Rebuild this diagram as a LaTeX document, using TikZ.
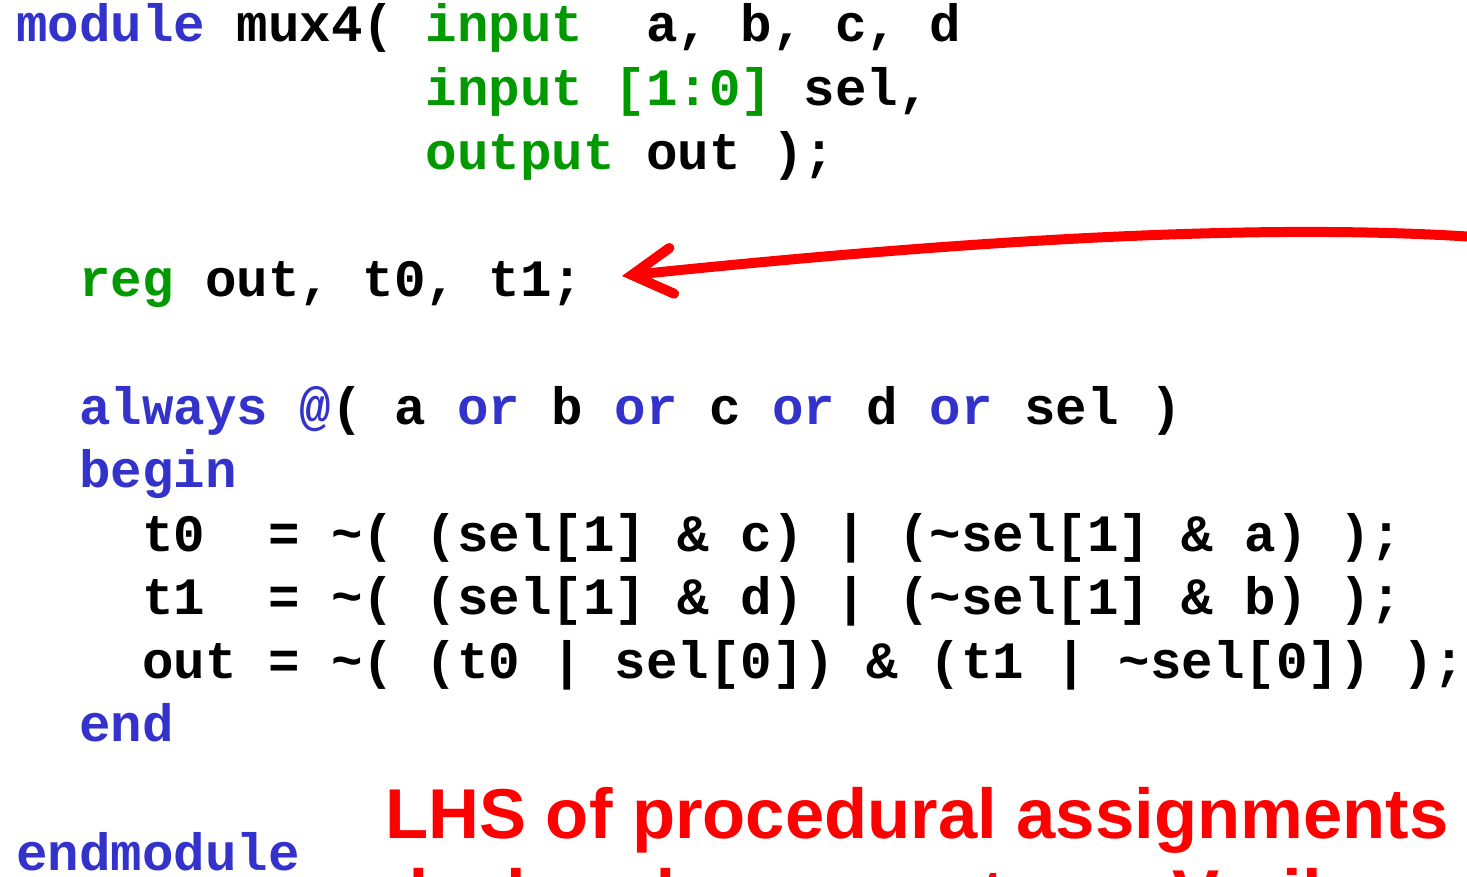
\documentclass[tikz,border=0pt]{standalone}
\usepackage{fontspec}
\setmainfont{Liberation Sans}
\newfontfamily\codefont{Liberation Mono}
\usepackage{xcolor}
\usepackage{tikz}
\usetikzlibrary{arrows.meta}
\definecolor{kwblue}{RGB}{51, 51, 204}
\definecolor{declgreen}{RGB}{0, 153, 0}
\definecolor{notered}{RGB}{255, 0, 0}
\newcommand{\kw}[1]{\textcolor{kwblue}{#1}}
\newcommand{\decl}[1]{\textcolor{declgreen}{#1}}
\newcommand{\tl}{\textasciitilde}

\begin{document}
\begin{tikzpicture}[
    x=1pt, y=-1pt,
    code/.style={anchor=base west, inner sep=0pt,
                 font=\codefont\bfseries\fontsize{52.5}{64}\selectfont},
    note/.style={anchor=base west, inner sep=0pt, text=notered,
                 font=\bfseries\fontsize{70.6}{86}\selectfont},
    arr/.style={-{Straight Barb[length=40pt, width=46pt, line cap=round]},
                line width=10pt, notered, line cap=round}
]
\useasboundingbox (0,0) rectangle (1467,877);

% Module header
\node[code] (hdr)  at (16,42)    {\kw{module} mux4( \decl{input}\ \ a, b, c, d};
\node[code] (sel)  at (425.5,106) {\decl{input [1:0]} sel,};
\node[code] (outp) at (425.5,170) {\decl{output} out );};

% Declarations
\node[code] (regs) at (79,297) {\decl{reg} out, t0, t1;};

% Always block
\node[code] (alw)  at (79,424)  {\kw{always @}( a \kw{or} b \kw{or} c \kw{or} d \kw{or} sel )};
\node[code] (bgn)  at (79,487)  {\kw{begin}};
\node[code] (asg0) at (142,551) {t0\ \ = \tl( (sel[1] \& c) | (\tl sel[1] \& a) );};
\node[code] (asg1) at (142,614) {t1\ \ = \tl( (sel[1] \& d) | (\tl sel[1] \& b) );};
\node[code] (asg2) at (142,678) {out = \tl( (t0 | sel[0]) \& (t1 | \tl sel[0]) );};
\node[code] (fin)  at (79,741)  {\kw{end}};
\node[code] (endm) at (16,870)  {\kw{endmodule}};

% Note
\node[note] (lhs)  at (385,838) {LHS of procedural assignments};
\node[note] (lhs2) at (385,919) {declared as a reg type. Verilog};

% Pointer
\coordinate (from) at (1475,237);
\coordinate (tip)  at (622,276);
\draw[arr] (from) .. controls (1250,222) and (950,242) .. (tip);

\end{tikzpicture}
\end{document}
